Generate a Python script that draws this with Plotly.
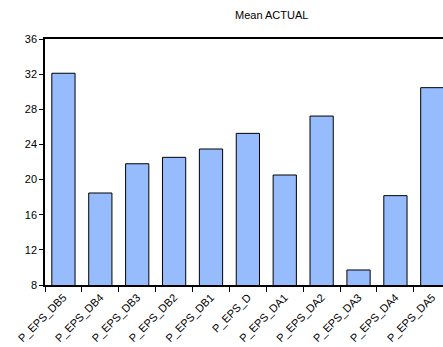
import plotly.graph_objects as go

categories = ["P_EPS_DB5", "P_EPS_DB4", "P_EPS_DB3", "P_EPS_DB2", "P_EPS_DB1", "P_EPS_D",
              "P_EPS_DA1", "P_EPS_DA2", "P_EPS_DA3", "P_EPS_DA4", "P_EPS_DA5"]
mean_actual = [32.1, 18.47, 21.8, 22.53, 23.48, 25.26, 20.52, 27.23, 9.71, 18.17, 30.46]
y_ticks = [8, 12, 16, 20, 24, 28, 32, 36]

W, H = 443, 347
L, T, B = 45, 39, 62

fig = go.Figure(go.Bar(
    x=categories, y=mean_actual,
    marker=dict(color="#96BCFE", line=dict(color="black", width=1)),
    width=0.63,
))

font = dict(family="Liberation Sans, Arial, sans-serif", size=11, color="black")
xfont = dict(family="Liberation Sans, Arial, sans-serif", size=11, color="black")
plot_w = W - L
plot_h = H - T - B
fig.update_layout(
    width=W, height=H,
    margin=dict(l=L, r=0, t=T, b=B, pad=0),
    paper_bgcolor="white", plot_bgcolor="white",
    font=font,
    showlegend=False,
    annotations=[dict(text="Mean ACTUAL",
                      x=(271 - 45) / plot_w, y=(285 - 15) / plot_h,
                      xref="paper", yref="paper", xanchor="center", yanchor="middle",
                      showarrow=False, font=font)],
)

fig.update_xaxes(
    range=[-0.5, 10.29], showgrid=False, showline=True, linecolor="black", linewidth=1.5,
    mirror=True, ticks="outside", tickson="boundaries", ticklen=5, tickcolor="black",
    tickangle=-45, tickfont=xfont, automargin=False,
)
fig.update_yaxes(
    range=[8, 36], tickvals=y_ticks, showgrid=False, showline=True, linecolor="black",
    linewidth=1.5, ticks="outside", ticklen=4, tickcolor="black", tickfont=font,
    zeroline=False, automargin=False,
)

fig.write_html(
    "out.html",
    config={"displayModeBar": False},
    post_script="document.body.style.margin='0';document.body.style.overflow='hidden';",
)
